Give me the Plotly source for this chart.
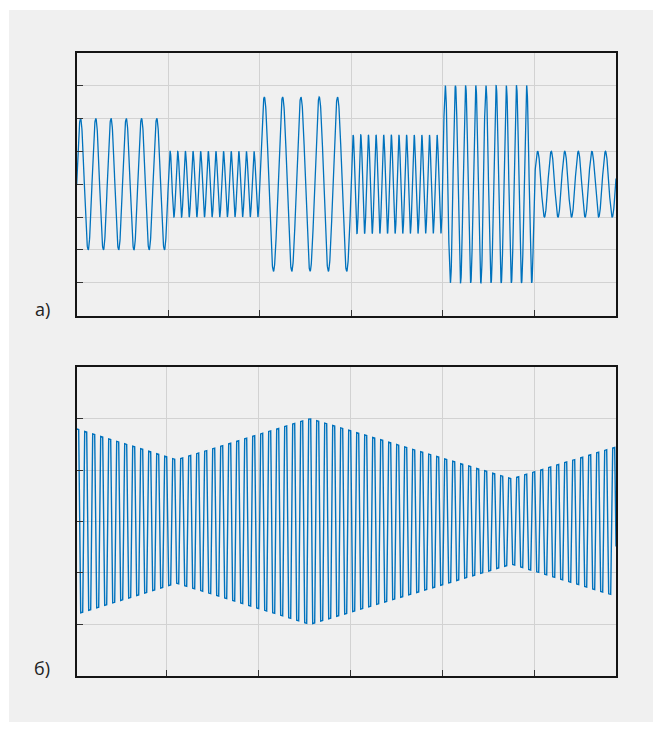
import numpy as np
import plotly.graph_objects as go

# ---- Panel a: piecewise sinusoid (segment edges in grid units) ----
seg_edges = [0, 1, 2, 3, 4, 5, 5.893]
seg_amp = [2.0, 1.0, 2.65, 1.5, 3.0, 1.0]
seg_freq = [6, 12, 5, 12, 9, 6.75]   # cycles per grid unit

# ---- Panel b: coarsely sampled carrier with piecewise-linear envelope ----
env_x = [0.026, 1.113, 2.562, 4.754, 5.888]
env_amp = [1.8, 1.2, 2.0, 0.83, 1.45]   # displayed peak level
carrier_freq = 11.5     # cycles per grid unit
samples_per_cycle = 4   # coarse sampling -> near-square look

# tick / grid positions
a_xticks = [1, 2, 3, 4, 5]
a_yticks = [-3, -2, -1, 0, 1, 2, 3]
b_xticks = [1, 2, 3, 4, 5]
b_yticks = [-2, -1, 0, 1, 2]
labels = ["а)", "б)"]

# build panel a
xa, ya = [], []
for i in range(len(seg_amp)):
    t = np.linspace(seg_edges[i], seg_edges[i + 1], 600)
    xa.append(t)
    ya.append(seg_amp[i] * np.sin(2 * np.pi * seg_freq[i] * (t - seg_edges[i])))
xa = np.concatenate(xa)
ya = np.concatenate(ya)

# build panel b
dt = 1.0 / (carrier_freq * samples_per_cycle)
xb = np.arange(env_x[0], env_x[-1] + 1e-9, dt)
xb = np.append(xb, env_x[-1]) if xb[-1] < env_x[-1] - 1e-6 else xb
envb = np.interp(xb, env_x, env_amp)
ph = 2 * np.pi * carrier_freq * (xb - env_x[0]) + np.pi / 4
yb = envb * np.sin(ph) / np.sin(np.pi / 4)

W, H = 662, 732
BLUE = "#0072BD"
BG = "#f0f0f0"
GRID = "#d2d2d2"

fig = go.Figure()
fig.add_trace(go.Scatter(x=xa, y=ya, mode="lines", line=dict(color=BLUE, width=1.3),
                         xaxis="x", yaxis="y", showlegend=False, hoverinfo="skip"))
fig.add_trace(go.Scatter(x=xb, y=yb, mode="lines", line=dict(color=BLUE, width=1.4),
                         xaxis="x2", yaxis="y2", showlegend=False, hoverinfo="skip"))

def px_x(p):
    return p / W

def px_y(p):
    return 1 - p / H

axis_common = dict(showline=True, linecolor="#151515", linewidth=1.6, mirror=True,
                   showgrid=True, gridcolor=GRID, gridwidth=1, zeroline=False,
                   ticks="inside", ticklen=6, tickcolor="#333", tickwidth=1,
                   showticklabels=False, fixedrange=True)

fig.update_layout(
    width=W, height=H,
    margin=dict(l=0, r=0, t=0, b=0),
    paper_bgcolor="white",
    plot_bgcolor=BG,
    xaxis=dict(domain=[px_x(76.7), px_x(616)], range=[seg_edges[0], seg_edges[-1]],
               tickvals=a_xticks, anchor="y", **axis_common),
    yaxis=dict(domain=[px_y(315.7), px_y(52.7)], range=[-4, 4],
               tickvals=a_yticks, anchor="x", **axis_common),
    xaxis2=dict(domain=[px_x(76.7), px_x(616)], range=[env_x[0], env_x[-1]],
                tickvals=b_xticks, anchor="y2", **axis_common),
    yaxis2=dict(domain=[px_y(675.7), px_y(367.3)], range=[-3, 3],
                tickvals=b_yticks, anchor="x2", **axis_common),
    shapes=[dict(type="rect", xref="paper", yref="paper", layer="below",
                 x0=px_x(9), x1=px_x(653), y0=px_y(722), y1=px_y(10),
                 fillcolor=BG, line=dict(width=0))],
    annotations=[
        dict(text=labels[0], xref="paper", yref="paper", x=px_x(42), y=px_y(309),
             xanchor="center", yanchor="middle", showarrow=False,
             font=dict(family="Open Sans", size=18, color="#222")),
        dict(text=labels[1], xref="paper", yref="paper", x=px_x(42), y=px_y(668),
             xanchor="center", yanchor="middle", showarrow=False,
             font=dict(family="Open Sans", size=18, color="#222")),
    ],
)

fig.write_html("out.html", config={"displayModeBar": False},
               post_script="document.body.style.margin='0';document.body.style.padding='0';"
                           "document.documentElement.style.overflow='hidden';")
